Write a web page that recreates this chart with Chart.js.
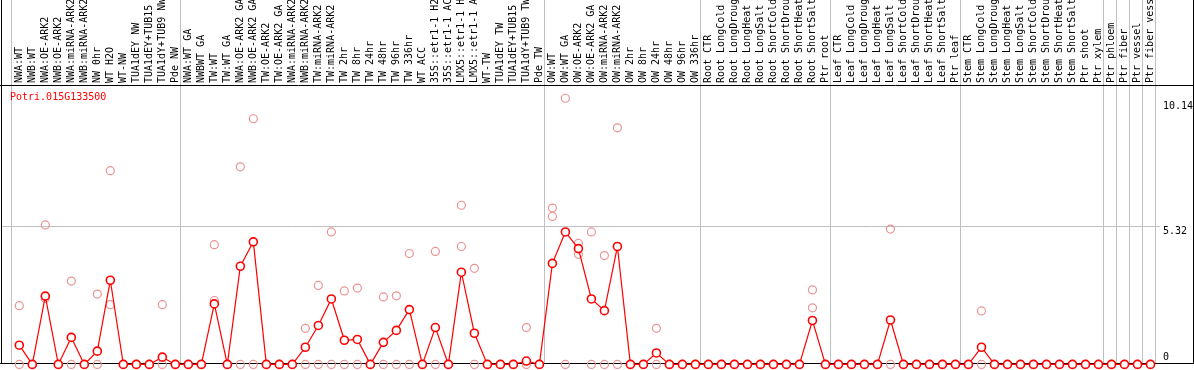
<!DOCTYPE html>
<html>
<head>
<meta charset="utf-8">
<script src="https://cdn.jsdelivr.net/npm/chart.js@4.4.1/dist/chart.umd.min.js"></script>
<style>
  html, body { margin: 0; padding: 0; background: #fff; }
</style>
</head>
<body>
<canvas id="exprChart" width="1194" height="370"></canvas>
<script>
// gene shown in the corner
const geneId = 'Potri.015G133500';

// sample names (top labels)
const samples = [
  'NWA:WT', 'NWB:WT', 'NWA:OE-ARK2', 'NWB:OE-ARK2', 'NWA:miRNA-ARK2', 'NWB:miRNA-ARK2', 'NW 0hr', 'WT H2O', 'WT-NW', 'TUA1dEY NW',
  'TUA1dEY+TUB15', 'TUA1dY+TUB9 NW', 'Pde NW', 'NWA:WT GA', 'NWBWT GA', 'TW:WT', 'TW:WT GA', 'NWA:OE-ARK2 GA', 'NWB:OE-ARK2 GA', 'TW:OE-ARK2',
  'TW:OE-ARK2 GA', 'NWA:miRNA-ARK2', 'NWB:miRNA-ARK2', 'TW:miRNA-ARK2', 'TW:miRNA-ARK2', 'TW 2hr', 'TW 8hr', 'TW 24hr', 'TW 48hr', 'TW 96hr',
  'TW 336hr', 'WT ACC', '35S::etr1-1 H2O', '35S::etr1-1 ACC', 'LMX5::etr1-1 H2O', 'LMX5::etr1-1 ACC', 'WT-TW', 'TUA1dEY TW', 'TUA1dEY+TUB15', 'TUA1dY+TUB9 TW',
  'Pde TW', 'OW:WT', 'OW:WT GA', 'OW:OE-ARK2', 'OW:OE-ARK2 GA', 'OW:miRNA-ARK2', 'OW:miRNA-ARK2', 'OW 2hr', 'OW 8hr', 'OW 24hr',
  'OW 48hr', 'OW 96hr', 'OW 336hr', 'Root CTR', 'Root LongCold', 'Root LongDrought', 'Root LongHeat', 'Root LongSalt', 'Root ShortCold', 'Root ShortDrought',
  'Root ShortHeat', 'Root ShortSalt', 'Ptr root', 'Leaf CTR', 'Leaf LongCold', 'Leaf LongDrought', 'Leaf LongHeat', 'Leaf LongSalt', 'Leaf ShortCold', 'Leaf ShortDrought',
  'Leaf ShortHeat', 'Leaf ShortSalt', 'Ptr leaf', 'Stem CTR', 'Stem LongCold', 'Stem LongDrought', 'Stem LongHeat', 'Stem LongSalt', 'Stem ShortCold', 'Stem ShortDrought',
  'Stem ShortHeat', 'Stem ShortSalt', 'Ptr shoot', 'Ptr xylem', 'Ptr phloem', 'Ptr fiber', 'Ptr vessel', 'Ptr fiber vessel'
];

// mean expression (red line)
const meanExpr = [
  0.74, 0, 2.63, 0, 1.04, 0, 0.51, 3.24, 0, 0,
  0, 0.28, 0, 0, 0, 2.33, 0, 3.78, 4.72, 0,
  0, 0, 0.66, 1.50, 2.52, 0.93, 0.96, 0, 0.85, 1.31,
  2.11, 0, 1.42, 0, 3.55, 1.20, 0, 0, 0, 0.13,
  0, 3.89, 5.10, 4.46, 2.52, 2.07, 4.54, 0, 0, 0.44,
  0, 0, 0, 0, 0, 0, 0, 0, 0, 0,
  0, 1.69, 0, 0, 0, 0, 0, 1.71, 0, 0,
  0, 0, 0, 0, 0.66, 0, 0, 0, 0, 0,
  0, 0, 0, 0, 0, 0, 0, 0
];

// individual replicates (pale circles)
const repA = [
  2.26, 0, 5.37, 0, 3.21, 0, 2.71, 7.46, 0, 0,
  0, 2.30, 0, 0, 0, 4.61, 0, 7.61, 9.46, 0,
  0, 0, 1.39, 3.04, 5.10, 2.83, 2.94, 0, 2.60, 2.64,
  4.27, 0, 4.35, 0, 6.13, 3.70, 0, 0, 0, 1.42,
  0, 6.02, 10.25, 4.66, 5.10, 4.19, 9.11, 0, 0, 1.39,
  0, 0, 0, 0, 0, 0, 0, 0, 0, 0,
  0, 2.87, 0, 0, 0, 0, 0, 5.21, 0, 0,
  0, 0, 0, 0, 2.06, 0, 0, 0, 0, 0,
  0, 0, 0, 0, 0, 0, 0, 0
];
const repB = [
  0, 0, 2.54, 0, 0, 0, 0, 2.30, 0, 0,
  0, 0, 0, 0, 0, 2.46, 0, 0, 0, 0,
  0, 0, 0, 0, 0, 0, 0, 0, 0, 0,
  0, 0, 0, 0, 4.54, 0, 0, 0, 0, 0,
  0, 5.70, 0, 4.24, 0, 0, 0, 0, 0, 0,
  0, 0, 0, 0, 0, 0, 0, 0, 0, 0,
  0, 2.18, 0, 0, 0, 0, 0, 0, 0, 0,
  0, 0, 0, 0, 0, 0, 0, 0, 0, 0,
  0, 0, 0, 0, 0, 0, 0, 0
];

// right axis values
const yTicks = [0, 5.32, 10.14];
// first sample index of each experiment block
const groupStarts = [0, 13, 41, 53, 63, 73, 84, 85, 86, 87];

const monoFont = 'DejaVu Sans Mono';

const framePlugin = {
  id: 'frame',
  beforeDatasetsDraw(chart) {
    const { ctx, chartArea, width } = chart;
    const xs = chart.scales.x;
    const ys = chart.scales.y;
    const bottom = Math.round(chartArea.bottom) - 0.5;
    ctx.save();
    ctx.lineWidth = 1;

    // block separators, full height
    ctx.strokeStyle = '#c0c0c0';
    const seps = groupStarts.map(i => xs.getPixelForValue(i) - 8);
    seps.push(xs.getPixelForValue(samples.length - 1) + 5);
    seps.forEach(px => {
      const x = Math.round(px) + 0.5;
      ctx.beginPath();
      ctx.moveTo(x, 0);
      ctx.lineTo(x, bottom);
      ctx.stroke();
    });

    // mid grid line
    const gy = Math.round(ys.getPixelForValue(yTicks[1])) + 0.5;
    ctx.beginPath();
    ctx.moveTo(2, gy);
    ctx.lineTo(chartArea.right + 3, gy);
    ctx.stroke();

    // black frame
    ctx.strokeStyle = '#000';
    ctx.beginPath();
    ctx.moveTo(1.5, 0); ctx.lineTo(1.5, bottom);
    ctx.moveTo(width - 0.5, 0); ctx.lineTo(width - 0.5, bottom);
    ctx.moveTo(0, Math.round(chartArea.top) + 0.5); ctx.lineTo(width, Math.round(chartArea.top) + 0.5);
    ctx.moveTo(0, bottom); ctx.lineTo(width, bottom);
    ctx.stroke();
    ctx.restore();
  },
  afterDraw(chart) {
    const { ctx, chartArea } = chart;
    const ys = chart.scales.y;
    ctx.save();
    ctx.font = '10px "' + monoFont + '"';
    ctx.textBaseline = 'middle';
    ctx.textAlign = 'left';
    ctx.fillStyle = '#000';
    yTicks.forEach(v => {
      const y = Math.min(ys.getPixelForValue(v) + 5, chartArea.bottom - 7);
      ctx.fillText(String(v), chartArea.right + 6, y);
    });
    ctx.fillStyle = '#ff0000';
    ctx.fillText(geneId, 10, chartArea.top + 12);
    ctx.restore();
  }
};

const repStyle = {
  showLine: false,
  pointRadius: 4,
  pointBorderWidth: 1.2,
  pointBorderColor: '#e99393',
  pointBackgroundColor: 'rgba(0,0,0,0)',
  borderColor: '#e99393',
  clip: false
};

new Chart(document.getElementById('exprChart'), {
  type: 'line',
  data: {
    labels: samples,
    datasets: [
      {
        label: 'mean',
        data: meanExpr,
        borderColor: '#ff0000',
        borderWidth: 1.2,
        tension: 0,
        pointRadius: 4,
        pointBorderWidth: 1.6,
        pointBorderColor: '#ff0000',
        pointBackgroundColor: '#ffffff',
        clip: false
      },
      Object.assign({ label: 'rep A', data: repA }, repStyle),
      Object.assign({ label: 'rep B', data: repB }, repStyle)
    ]
  },
  options: {
    responsive: false,
    animation: false,
    devicePixelRatio: 1,
    layout: { padding: { left: 12.8, right: 0, top: 0, bottom: 1.5 } },
    plugins: {
      legend: { display: false },
      tooltip: { enabled: false }
    },
    scales: {
      x: {
        type: 'category',
        position: 'top',
        offset: true,
        grid: { display: false, drawTicks: false },
        border: { display: false },
        ticks: {
          autoSkip: false,
          maxRotation: 90,
          minRotation: 90,
          padding: 2,
          labelOffset: 12,
          color: '#000',
          font: { family: monoFont, size: 10 }
        },
        afterFit(scale) { scale.height = 85; }
      },
      y: {
        position: 'right',
        min: 0,
        max: 10.76,
        grid: { display: false },
        border: { display: false },
        ticks: { display: false },
        afterBuildTicks(scale) { scale.ticks = yTicks.map(v => ({ value: v })); },
        afterFit(scale) { scale.width = 37; }
      }
    }
  },
  plugins: [framePlugin]
});
</script>
</body>
</html>
